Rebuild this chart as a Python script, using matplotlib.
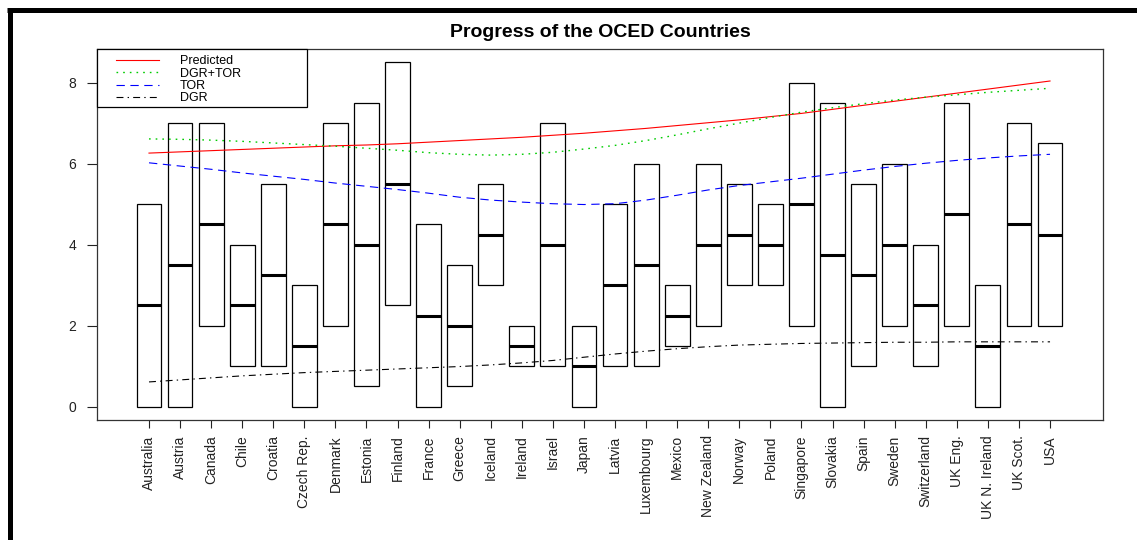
import matplotlib
matplotlib.use("Agg")
import matplotlib.pyplot as plt
from matplotlib.lines import Line2D
from matplotlib.patches import Rectangle

plt.rcParams['font.family'] = ['Liberation Sans', 'DejaVu Sans']
plt.rcParams['lines.scale_dashes'] = False

countries = ["Australia", "Austria", "Canada", "Chile", "Croatia", "Czech Rep.",
             "Denmark", "Estonia", "Finland", "France", "Greece", "Iceland",
             "Ireland", "Israel", "Japan", "Latvia", "Luxembourg", "Mexico",
             "New Zealand", "Norway", "Poland", "Singapore", "Slovakia", "Spain",
             "Sweden", "Switzerland", "UK Eng.", "UK N. Ireland", "UK Scot.", "USA"]

box_low = [0, 0, 2, 1, 1, 0, 2, 0.5, 2.5, 0, 0.5, 3, 1, 1, 0, 1, 1, 1.5,
           2, 3, 3, 2, 0, 1, 2, 1, 2, 0, 2, 2]
box_median = [2.5, 3.5, 4.5, 2.5, 3.25, 1.5, 4.5, 4, 5.5, 2.25, 2, 4.25, 1.5, 4,
              1, 3, 3.5, 2.25, 4, 4.25, 4, 5, 3.75, 3.25, 4, 2.5, 4.75, 1.5, 4.5, 4.25]
box_high = [5, 7, 7, 4, 5.5, 3, 7, 7.5, 8.5, 4.5, 3.5, 5.5, 2, 7, 2, 5, 6, 3,
            6, 5.5, 5, 8, 7.5, 5.5, 6, 4, 7.5, 3, 7, 6.5]

predicted = [6.26, 6.29, 6.32, 6.35, 6.38, 6.41, 6.44, 6.46, 6.49, 6.53,
             6.57, 6.61, 6.65, 6.70, 6.75, 6.81, 6.87, 6.94, 7.01, 7.08,
             7.16, 7.24, 7.34, 7.44, 7.54, 7.64, 7.74, 7.84, 7.94, 8.04]
dgr_tor = [6.61, 6.60, 6.58, 6.55, 6.51, 6.47, 6.43, 6.38, 6.33, 6.27,
           6.23, 6.21, 6.23, 6.28, 6.36, 6.45, 6.57, 6.71, 6.86, 7.00,
           7.14, 7.27, 7.38, 7.48, 7.57, 7.64, 7.70, 7.76, 7.81, 7.86]
tor = [6.02, 5.94, 5.86, 5.77, 5.69, 5.61, 5.52, 5.44, 5.36, 5.27,
       5.17, 5.10, 5.05, 5.01, 4.99, 5.01, 5.10, 5.22, 5.35, 5.46,
       5.55, 5.64, 5.74, 5.84, 5.93, 6.01, 6.08, 6.14, 6.19, 6.23]
dgr = [0.61, 0.66, 0.71, 0.76, 0.80, 0.84, 0.87, 0.90, 0.93, 0.96,
       0.99, 1.03, 1.08, 1.14, 1.22, 1.30, 1.37, 1.43, 1.48, 1.52,
       1.54, 1.56, 1.57, 1.58, 1.59, 1.59, 1.60, 1.60, 1.60, 1.60]

y_ticks = [0, 2, 4, 6, 8]

W, H = 1137, 540
fig = plt.figure(figsize=(W / 100, H / 100), dpi=100)
ax = fig.add_axes([97 / W, 1 - 420 / H, (1103 - 97) / W, (420 - 49) / H])

pos = list(range(1, len(countries) + 1))
heights = [h - l for h, l in zip(box_high, box_low)]
ax.bar(pos, heights, bottom=box_low, width=0.8, fill=False,
       edgecolor='black', linewidth=0.9, zorder=2)
ax.hlines(box_median, [p - 0.4 for p in pos], [p + 0.4 for p in pos],
          colors='black', linewidth=2.2, zorder=3)

ax.plot(pos, predicted, color='#ff0000', lw=0.8, ls='-', label='Predicted', zorder=4)
ax.plot(pos, dgr_tor, color='#00cc00', lw=1.0, ls=(0, (1.2, 3.6)), label='DGR+TOR', zorder=4)
ax.plot(pos, tor, color='#0000ff', lw=0.8, ls=(0, (6, 4)), label='TOR', zorder=4)
ax.plot(pos, dgr, color='black', lw=0.8, ls=(0, (5, 3, 1, 3)), label='DGR', zorder=4)

ax.set_xlim(1 - 52 / 31.07, 1 + 954 / 31.07)
ax.set_ylim(-0.33, 8.83)
ax.set_xticks(pos)
ax.set_xticklabels(countries, rotation=90, fontsize=10)
ax.set_yticks(y_ticks)
ax.set_yticklabels([str(v) for v in y_ticks], fontsize=10)
ax.tick_params(axis='y', length=7, width=0.8, pad=8, colors='#222222')
ax.tick_params(axis='x', length=6, width=0.8, pad=5, colors='#222222')
for s in ax.spines.values():
    s.set_linewidth(0.9)
    s.set_color('#333333')

ax.set_title('Progress of the OCED Countries', fontsize=14, fontweight='bold', pad=8.5)

# legend frame and entries
ax_w, ax_h = 1006, 371
ax.add_patch(Rectangle((0, 1 - 58 / ax_h), 210 / ax_w, 58 / ax_h, transform=ax.transAxes,
                       facecolor='white', edgecolor='black', lw=0.9, zorder=5, clip_on=False))
leg = ax.legend(loc='upper left', bbox_to_anchor=(19 / ax_w, 1 - 6.5 / ax_h), frameon=False,
                fontsize=9, handlelength=3.44, handletextpad=1.68, borderpad=0,
                borderaxespad=0, labelspacing=0.02)
leg.set_zorder(6)

# outer frame edges of the figure
fig.add_artist(Line2D([7 / W, 1.0], [1 - 10 / H, 1 - 10 / H], color='black', lw=3.6,
                      transform=fig.transFigure, solid_capstyle='butt'))
fig.add_artist(Line2D([9.5 / W, 9.5 / W], [1 - 8 / H, 0], color='black', lw=3.6,
                      transform=fig.transFigure, solid_capstyle='butt'))

fig.savefig('out.png', dpi=100)
